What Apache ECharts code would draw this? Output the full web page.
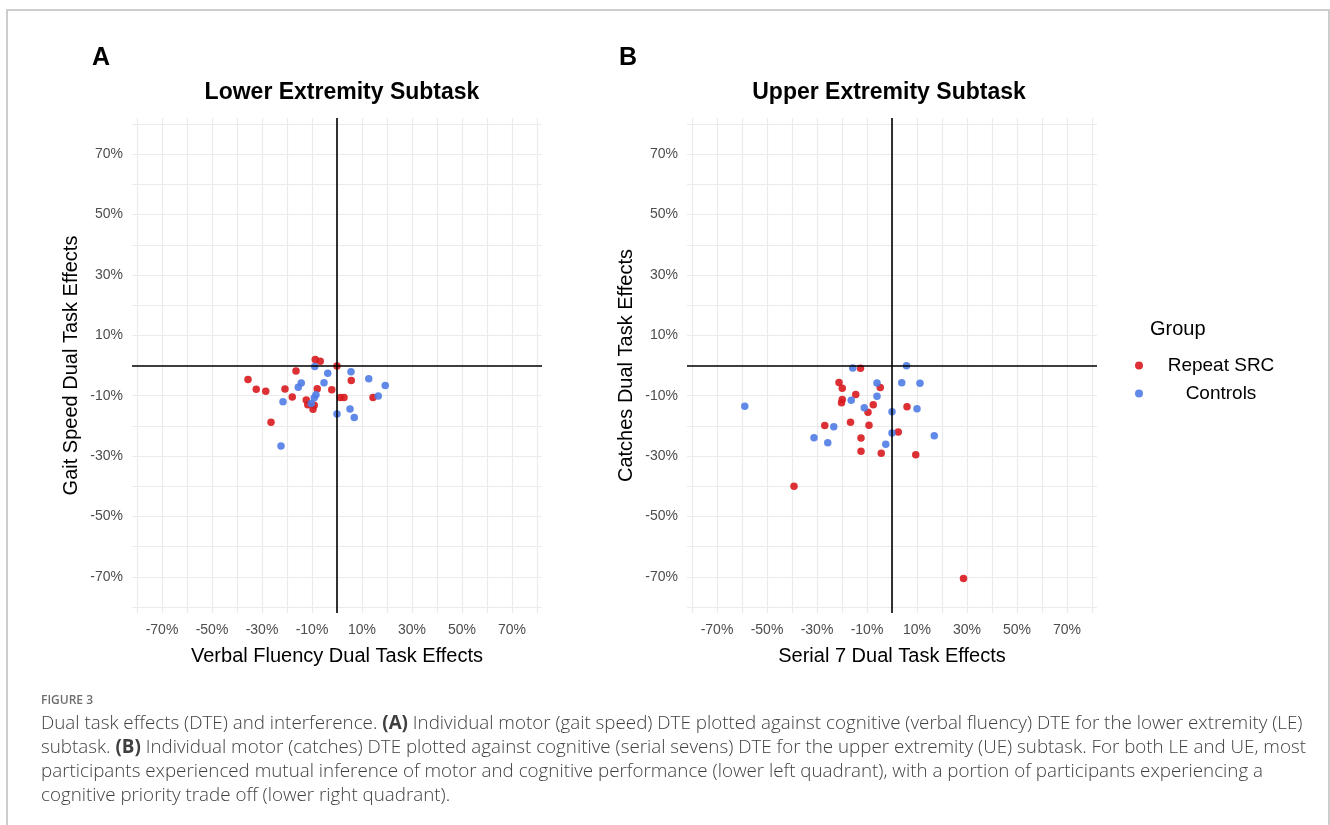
<!DOCTYPE html>
<html>
<head>
<meta charset="utf-8">
<script src="https://cdn.jsdelivr.net/npm/echarts@6/dist/echarts.min.js"></script>
<style>
  html, body { margin: 0; padding: 0; background: #fff; }
  #chart { width: 1330px; height: 825px; }
</style>
</head>
<body>
<div id="chart"></div>
<script>
// values in percent, [x, y]
// panel A: verbal fluency DTE (x) vs gait speed DTE (y)
const leRepeatSRC = [
  [-8.7, 2.0], [-6.7, 1.4], [0, -0.2], [-16.4, -1.8], [-35.6, -4.6],
  [5.7, -5.0], [-32.3, -7.9], [-28.5, -8.5], [-20.8, -7.8], [-7.9, -7.7],
  [-2.1, -8.0], [-17.9, -10.4], [1.3, -10.6], [2.8, -10.6], [14.4, -10.6],
  [-12.3, -11.4], [-11.7, -13.0], [-9.1, -13.2], [-9.6, -14.5], [-26.4, -18.8]
]
const leControls = [
  [-8.9, -0.3], [-3.7, -2.6], [5.6, -2.1], [12.7, -4.4], [19.3, -6.6],
  [-14.3, -5.8], [-15.5, -7.2], [-5.2, -5.7], [-8.4, -9.7], [-9.1, -10.7],
  [-10.3, -12.6], [-21.6, -12.0], [16.5, -10.1], [5.2, -14.4], [0, -16.1],
  [6.9, -17.2], [-22.4, -26.7]
]
// panel B: serial 7 DTE (x) vs catches DTE (y)
const ueRepeatSRC = [
  [-12.6, -0.9], [-21.2, -5.6], [-19.9, -7.5], [-4.7, -7.3], [-14.5, -9.6],
  [-19.9, -11.3], [-20.2, -12.3], [-7.5, -13.0], [-9.6, -15.5], [6.0, -13.7],
  [-16.6, -18.8], [-9.2, -19.8], [-26.9, -19.9], [2.5, -22.0], [-12.4, -24.0],
  [-12.4, -28.4], [-4.3, -29.1], [9.5, -29.6], [-39.2, -40.0], [28.6, -70.6]
]
const ueControls = [
  [-15.7, -0.8], [5.8, -0.1], [-6.0, -5.8], [3.9, -5.7], [11.2, -5.9],
  [-6.0, -10.2], [-16.3, -11.5], [-11.1, -14.0], [0, -15.3], [10.0, -14.3],
  [-58.9, -13.5], [-23.3, -20.3], [-31.2, -23.9], [-25.7, -25.6], [0, -22.4],
  [-2.5, -26.1], [16.9, -23.3]
]
const gridTicks = [-80, -70, -60, -50, -40, -30, -20, -10, 0, 10, 20, 30, 40, 50, 60, 70, 80]
const labelTicks = [-70, -50, -30, -10, 10, 30, 50, 70]
const groupNames = ['Repeat SRC', 'Controls']
const groupColors = ['#D8191E', '#4F7CE6']

const FONT = '"Liberation Sans", Arial, sans-serif'
const CAP_FONT = '"Open Sans", "Noto Sans", sans-serif'

function valueAxis(gridIndex, name, isY) {
  return {
    type: 'value',
    gridIndex: gridIndex,
    min: -82,
    max: 82,
    name: name,
    nameLocation: 'middle',
    nameGap: isY ? 51 : 33,
    nameTextStyle: { color: '#000', fontSize: 20, fontFamily: FONT },
    axisLine: { show: false },
    axisTick: { show: false, customValues: gridTicks },
    axisLabel: {
      customValues: labelTicks,
      color: '#4D4D4D',
      fontSize: 14,
      fontFamily: FONT,
      margin: isY ? 9 : 10,
      formatter: v => v + '%'
    },
    splitLine: { show: true, lineStyle: { color: '#EBEBEB', width: 1.2 } }
  }
}

function zeroLines() {
  return {
    silent: true,
    symbol: 'none',
    label: { show: false },
    lineStyle: { color: '#000', width: 1.6, type: 'solid' },
    data: [{ xAxis: 0 }, { yAxis: 0 }]
  }
}

function scatter(name, idx, data, color, withLines) {
  const s = {
    name: name,
    type: 'scatter',
    xAxisIndex: idx,
    yAxisIndex: idx,
    symbolSize: 7.5,
    itemStyle: { color: color, opacity: 0.9 },
    data: data
  }
  if (withLines) s.markLine = zeroLines()
  return s
}

const chart = echarts.init(document.getElementById('chart'))
chart.setOption({
  backgroundColor: '#fff',
  animation: false,
  title: [
    { text: 'A', left: 92, top: 46, padding: 0, textStyle: { fontSize: 25, fontWeight: 'bold', color: '#000', fontFamily: FONT } },
    { text: 'B', left: 619, top: 46, padding: 0, textStyle: { fontSize: 25, fontWeight: 'bold', color: '#000', fontFamily: FONT } },
    { text: 'Lower Extremity Subtask', left: 342, textAlign: 'center', top: 81, padding: 0, textStyle: { fontSize: 23, fontWeight: 'bold', color: '#000', fontFamily: FONT } },
    { text: 'Upper Extremity Subtask', left: 889, textAlign: 'center', top: 81, padding: 0, textStyle: { fontSize: 23, fontWeight: 'bold', color: '#000', fontFamily: FONT } },
    { text: 'Group', left: 1150, top: 319, padding: 0, textStyle: { fontSize: 20, fontWeight: 'normal', color: '#000', fontFamily: FONT } }
  ],
  legend: {
    data: groupNames,
    orient: 'vertical',
    left: 1130,
    top: 351,
    icon: 'circle',
    itemWidth: 8,
    itemHeight: 8,
    itemGap: 9,
    selectedMode: false,
    formatter: n => '{t|' + n + '}',
    textStyle: {
      rich: { t: { width: 146, align: 'center', fontSize: 19, lineHeight: 20, color: '#000', fontFamily: FONT } }
    }
  },
  grid: [
    { left: 132, top: 118, width: 410, height: 495 },
    { left: 687, top: 118, width: 410, height: 495 }
  ],
  xAxis: [
    valueAxis(0, 'Verbal Fluency Dual Task Effects', false),
    valueAxis(1, 'Serial 7 Dual Task Effects', false)
  ],
  yAxis: [
    valueAxis(0, 'Gait Speed Dual Task Effects', true),
    valueAxis(1, 'Catches Dual Task Effects', true)
  ],
  series: [
    scatter(groupNames[0], 0, leRepeatSRC, groupColors[0], true),
    scatter(groupNames[1], 0, leControls, groupColors[1], false),
    scatter(groupNames[0], 1, ueRepeatSRC, groupColors[0], true),
    scatter(groupNames[1], 1, ueControls, groupColors[1], false)
  ],
  graphic: [
    { type: 'rect', silent: true, shape: { x: 7, y: 10, width: 1322, height: 830 },
      style: { fill: 'none', stroke: '#BDBDBD', lineWidth: 1.5 } },
    { type: 'text', left: 41, top: 695, silent: true,
      style: { text: 'FIGURE 3', fill: '#6E6E6E', font: '600 12px ' + CAP_FONT } },
    { type: 'text', left: 41, top: 712, silent: true,
      style: {
        text: 'Dual task effects (DTE) and interference. {b|(A)} Individual motor (gait speed) DTE plotted against cognitive (verbal fluency) DTE for the lower extremity (LE)\n' +
          'subtask. {b|(B)} Individual motor (catches) DTE plotted against cognitive (serial sevens) DTE for the upper extremity (UE) subtask. For both LE and UE, most\n' +
          'participants experienced mutual inference of motor and cognitive performance (lower left quadrant), with a portion of participants experiencing a\n' +
          'cognitive priority trade off (lower right quadrant).',
        fill: '#3F3F3F',
        font: '300 18.8px ' + CAP_FONT,
        lineHeight: 24,
        rich: { b: { fontWeight: 'bold', fontSize: 18.8, fontFamily: CAP_FONT, fill: '#3F3F3F', lineHeight: 24 } }
      } }
  ]
})
</script>
</body>
</html>
